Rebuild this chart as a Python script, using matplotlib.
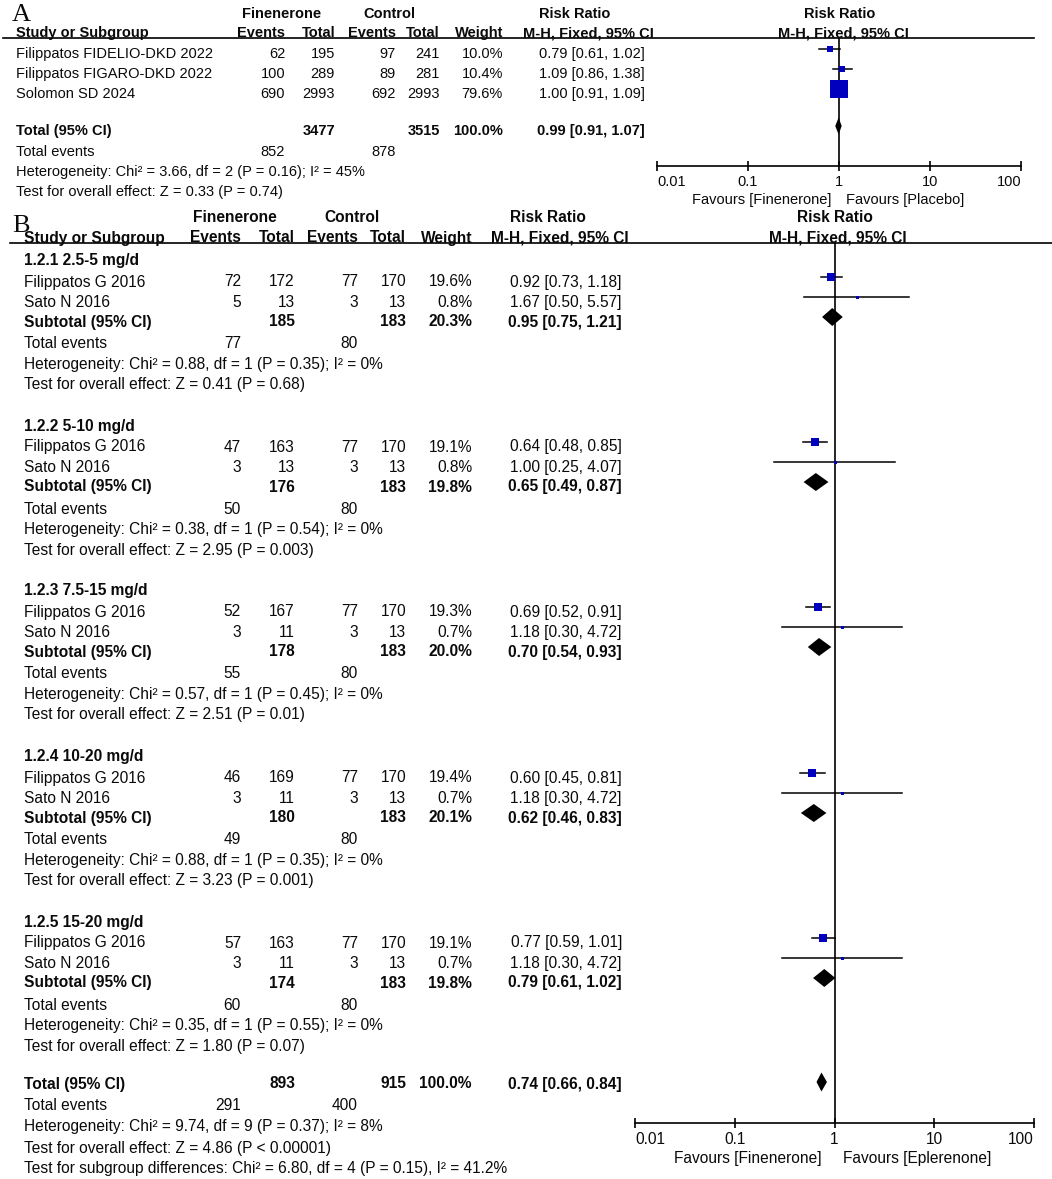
import matplotlib
matplotlib.use("Agg")
import matplotlib.pyplot as plt
from matplotlib.ticker import FixedLocator, NullLocator

# ---------------- Panel A data ----------------
A_studies = ["Filippatos FIDELIO-DKD 2022", "Filippatos FIGARO-DKD 2022", "Solomon SD 2024"]
A_fin_events = [62, 100, 690]
A_fin_total = [195, 289, 2993]
A_ctl_events = [97, 89, 692]
A_ctl_total = [241, 281, 2993]
A_weight = [10.0, 10.4, 79.6]
A_rr = [0.79, 1.09, 1.00]
A_lo = [0.61, 0.86, 0.91]
A_hi = [1.02, 1.38, 1.09]
A_tot_fin_total = 3477
A_tot_ctl_total = 3515
A_tot_weight = 100.0
A_tot_rr = 0.99
A_tot_lo = 0.91
A_tot_hi = 1.07
A_tot_events_fin = 852
A_tot_events_ctl = 878
A_het = "Heterogeneity: Chi² = 3.66, df = 2 (P = 0.16); I² = 45%"
A_z = "Test for overall effect: Z = 0.33 (P = 0.74)"
A_favours = ["Favours [Finenerone]", "Favours [Placebo]"]

# ---------------- Panel B data ----------------
B_subgroups = ["1.2.1 2.5-5 mg/d", "1.2.2 5-10 mg/d", "1.2.3 7.5-15 mg/d",
               "1.2.4 10-20 mg/d", "1.2.5 15-20 mg/d"]
B_studies = ["Filippatos G 2016", "Sato N 2016"]
B_fin_events = [[72, 5], [47, 3], [52, 3], [46, 3], [57, 3]]
B_fin_total = [[172, 13], [163, 13], [167, 11], [169, 11], [163, 11]]
B_ctl_events = [[77, 3], [77, 3], [77, 3], [77, 3], [77, 3]]
B_ctl_total = [[170, 13], [170, 13], [170, 13], [170, 13], [170, 13]]
B_weight = [[19.6, 0.8], [19.1, 0.8], [19.3, 0.7], [19.4, 0.7], [19.1, 0.7]]
B_rr = [[0.92, 1.67], [0.64, 1.00], [0.69, 1.18], [0.60, 1.18], [0.77, 1.18]]
B_lo = [[0.73, 0.50], [0.48, 0.25], [0.52, 0.30], [0.45, 0.30], [0.59, 0.30]]
B_hi = [[1.18, 5.57], [0.85, 4.07], [0.91, 4.72], [0.81, 4.72], [1.01, 4.72]]
B_sub_fin_total = [185, 176, 178, 180, 174]
B_sub_ctl_total = [183, 183, 183, 183, 183]
B_sub_weight = [20.3, 19.8, 20.0, 20.1, 19.8]
B_sub_rr = [0.95, 0.65, 0.70, 0.62, 0.79]
B_sub_lo = [0.75, 0.49, 0.54, 0.46, 0.61]
B_sub_hi = [1.21, 0.87, 0.93, 0.83, 1.02]
B_sub_events_fin = [77, 50, 55, 49, 60]
B_sub_events_ctl = [80, 80, 80, 80, 80]
B_sub_het = ["Heterogeneity: Chi² = 0.88, df = 1 (P = 0.35); I² = 0%",
             "Heterogeneity: Chi² = 0.38, df = 1 (P = 0.54); I² = 0%",
             "Heterogeneity: Chi² = 0.57, df = 1 (P = 0.45); I² = 0%",
             "Heterogeneity: Chi² = 0.88, df = 1 (P = 0.35); I² = 0%",
             "Heterogeneity: Chi² = 0.35, df = 1 (P = 0.55); I² = 0%"]
B_sub_z = ["Test for overall effect: Z = 0.41 (P = 0.68)",
           "Test for overall effect: Z = 2.95 (P = 0.003)",
           "Test for overall effect: Z = 2.51 (P = 0.01)",
           "Test for overall effect: Z = 3.23 (P = 0.001)",
           "Test for overall effect: Z = 1.80 (P = 0.07)"]
B_tot_fin_total = 893
B_tot_ctl_total = 915
B_tot_weight = 100.0
B_tot_rr = 0.74
B_tot_lo = 0.66
B_tot_hi = 0.84
B_tot_events_fin = 291
B_tot_events_ctl = 400
B_het = "Heterogeneity: Chi² = 9.74, df = 9 (P = 0.37); I² = 8%"
B_z = "Test for overall effect: Z = 4.86 (P < 0.00001)"
B_subdiff = "Test for subgroup differences: Chi² = 6.80, df = 4 (P = 0.15), I² = 41.2%"
B_favours = ["Favours [Finenerone]", "Favours [Eplerenone]"]

tick_vals = [0.01, 0.1, 1, 10, 100]
tick_labels = ["0.01", "0.1", "1", "10", "100"]

# ---------------- Figure ----------------
W, H = 1052, 1179
DPI = 100
fig = plt.figure(figsize=(W / DPI, H / DPI), dpi=DPI)
fig.patch.set_facecolor("white")
FONT = "Liberation Sans"
SERIF = "Liberation Serif"
TXT = "#0a0a0a"
BLUE = "#0000BE"

tx = fig.add_axes([0, 0, 1, 1])
tx.set_xlim(0, W)
tx.set_ylim(H, 0)
tx.axis("off")


def put(x, yc, s, size, ha="left", bold=False, off=5.0):
    tx.text(x, yc + off, s, fontsize=size, ha=ha, va="baseline",
            family=FONT, fontweight="bold" if bold else "normal", color=TXT)


def forest_axes(x0, x1, y0, y1):
    ax = fig.add_axes([x0 / W, 1 - y1 / H, (x1 - x0) / W, (y1 - y0) / H])
    ax.set_xscale("log")
    ax.set_xlim(0.01, 100)
    ax.set_ylim(y1, y0)
    ax.patch.set_alpha(0)
    for s in ("top", "left", "right"):
        ax.spines[s].set_visible(False)
    ax.spines["bottom"].set_linewidth(1.2)
    ax.yaxis.set_visible(False)
    ax.xaxis.set_major_locator(FixedLocator(tick_vals))
    ax.xaxis.set_minor_locator(NullLocator())
    ax.set_xticklabels(tick_labels)
    ax.tick_params(axis="x", direction="inout", length=7, width=1.2, pad=3)
    ax.axvline(1, color="black", lw=1.2, zorder=1)
    return ax


def square(ax, y, rr, lo, hi, w):
    ax.plot([lo, hi], [y, y], color="black", lw=1.1, zorder=2, clip_on=False)
    side = max(1.3 * w ** 0.6, 3.0)
    ax.plot([rr], [y], marker="s", ms=side * 72 / DPI, color=BLUE,
            mec=BLUE, mew=0, zorder=3, clip_on=False)


def diamond(ax, y, rr, lo, hi, h=17):
    ax.fill([lo, rr, hi, rr], [y, y - h / 2, y, y + h / 2], color="black",
            zorder=3, clip_on=False, lw=0)


# ================= Panel A =================
SA = 10.5
a_left, a_ev1, a_tot1, a_ev2, a_tot2, a_wt, a_ci = 16, 285, 335, 396, 440, 503, 645
tx.text(12, 21, "A", fontsize=19, family=SERIF, color=TXT, va="baseline")
put(282, 13, "Finenerone", SA, "center", True)
put(389, 13, "Control", SA, "center", True)
put(575, 13, "Risk Ratio", SA, "center", True)
put(840, 13, "Risk Ratio", SA, "center", True)
put(a_left, 32, "Study or Subgroup", SA, "left", True)
put(a_ev1, 32, "Events", SA, "right", True)
put(a_tot1, 32, "Total", SA, "right", True)
put(a_ev2, 32, "Events", SA, "right", True)
put(a_tot2, 32, "Total", SA, "right", True)
put(a_wt, 32, "Weight", SA, "right", True)
put(588, 32, "M-H, Fixed, 95% CI", SA, "center", True)
put(843, 32, "M-H, Fixed, 95% CI", SA, "center", True)
tx.plot([3, 1034], [38, 38], color="black", lw=1.2)

axA = forest_axes(657, 1021, 38, 166)
for lab in axA.get_xticklabels():
    lab.set_fontsize(SA); lab.set_family(FONT); lab.set_color(TXT)
axA.get_xticklabels()[0].set_ha("left")
axA.get_xticklabels()[-1].set_ha("right")

a_rows = [53, 73, 93]
for i, name in enumerate(A_studies):
    y = a_rows[i]
    put(a_left, y, name, SA)
    put(a_ev1, y, str(A_fin_events[i]), SA, "right")
    put(a_tot1, y, str(A_fin_total[i]), SA, "right")
    put(a_ev2, y, str(A_ctl_events[i]), SA, "right")
    put(a_tot2, y, str(A_ctl_total[i]), SA, "right")
    put(a_wt, y, f"{A_weight[i]:.1f}%", SA, "right")
    put(a_ci, y, f"{A_rr[i]:.2f} [{A_lo[i]:.2f}, {A_hi[i]:.2f}]", SA, "right")
    square(axA, y - 4.5, A_rr[i], A_lo[i], A_hi[i], A_weight[i])

y = 130
put(a_left, y, "Total (95% CI)", SA, "left", True)
put(a_tot1, y, str(A_tot_fin_total), SA, "right", True)
put(a_tot2, y, str(A_tot_ctl_total), SA, "right", True)
put(a_wt, y, f"{A_tot_weight:.1f}%", SA, "right", True)
put(a_ci, y, f"{A_tot_rr:.2f} [{A_tot_lo:.2f}, {A_tot_hi:.2f}]", SA, "right", True)
diamond(axA, y - 4, A_tot_rr, A_tot_lo, A_tot_hi)
put(a_left, 151, "Total events", SA)
put(a_ev1, 151, str(A_tot_events_fin), SA, "right")
put(a_ev2, 151, str(A_tot_events_ctl), SA, "right")
put(a_left, 171, A_het, SA)
put(a_left, 191, A_z, SA)
put(831, 199, A_favours[0], SA, "right")
put(846, 199, A_favours[1], SA, "left")

# ================= Panel B =================
SB = 11.2
OB = 5.5
b_left, b_ev1, b_tot1, b_ev2, b_tot2, b_wt, b_ci = 24, 241, 295, 358, 406, 472, 622
tx.text(12, 232, "B", fontsize=19, family=SERIF, color=TXT, va="baseline")
put(235, 217, "Finenerone", SB, "center", True, OB)
put(352, 217, "Control", SB, "center", True, OB)
put(548, 217, "Risk Ratio", SB, "center", True, OB)
put(835, 217, "Risk Ratio", SB, "center", True, OB)
put(b_left, 237, "Study or Subgroup", SB, "left", True, OB)
put(b_ev1, 237, "Events", SB, "right", True, OB)
put(b_tot1, 237, "Total", SB, "right", True, OB)
put(b_ev2, 237, "Events", SB, "right", True, OB)
put(b_tot2, 237, "Total", SB, "right", True, OB)
put(b_wt, 237, "Weight", SB, "right", True, OB)
put(560, 237, "M-H, Fixed, 95% CI", SB, "center", True, OB)
put(838, 237, "M-H, Fixed, 95% CI", SB, "center", True, OB)
tx.plot([10, 1052], [243, 243], color="black", lw=1.2)

axB = forest_axes(635, 1034, 243, 1123)
for lab in axB.get_xticklabels():
    lab.set_fontsize(SB); lab.set_family(FONT); lab.set_color(TXT)
axB.get_xticklabels()[0].set_ha("left")
axB.get_xticklabels()[-1].set_ha("right")

block_top = [260, 425, 590, 756, 921]
for g, gname in enumerate(B_subgroups):
    y0 = block_top[g]
    put(b_left, y0, gname, SB, "left", True, OB)
    for i, name in enumerate(B_studies):
        y = y0 + 21 + 20.5 * i
        put(b_left, y, name, SB, off=OB)
        put(b_ev1, y, str(B_fin_events[g][i]), SB, "right", off=OB)
        put(b_tot1, y, str(B_fin_total[g][i]), SB, "right", off=OB)
        put(b_ev2, y, str(B_ctl_events[g][i]), SB, "right", off=OB)
        put(b_tot2, y, str(B_ctl_total[g][i]), SB, "right", off=OB)
        put(b_wt, y, f"{B_weight[g][i]:.1f}%", SB, "right", off=OB)
        put(b_ci, y, f"{B_rr[g][i]:.2f} [{B_lo[g][i]:.2f}, {B_hi[g][i]:.2f}]", SB, "right", off=OB)
        square(axB, y - 4.5, B_rr[g][i], B_lo[g][i], B_hi[g][i], B_weight[g][i])
    y = y0 + 61
    put(b_left, y, "Subtotal (95% CI)", SB, "left", True, OB)
    put(b_tot1, y, str(B_sub_fin_total[g]), SB, "right", True, OB)
    put(b_tot2, y, str(B_sub_ctl_total[g]), SB, "right", True, OB)
    put(b_wt, y, f"{B_sub_weight[g]:.1f}%", SB, "right", True, OB)
    put(b_ci, y, f"{B_sub_rr[g]:.2f} [{B_sub_lo[g]:.2f}, {B_sub_hi[g]:.2f}]", SB, "right", True, OB)
    diamond(axB, y - 4, B_sub_rr[g], B_sub_lo[g], B_sub_hi[g], 18)
    y = y0 + 83
    put(b_left, y, "Total events", SB, off=OB)
    put(b_ev1, y, str(B_sub_events_fin[g]), SB, "right", off=OB)
    put(b_ev2, y, str(B_sub_events_ctl[g]), SB, "right", off=OB)
    put(b_left, y0 + 103.5, B_sub_het[g], SB, off=OB)
    put(b_left, y0 + 124, B_sub_z[g], SB, off=OB)

y = 1083
put(b_left, y, "Total (95% CI)", SB, "left", True, OB)
put(b_tot1, y, str(B_tot_fin_total), SB, "right", True, OB)
put(b_tot2, y, str(B_tot_ctl_total), SB, "right", True, OB)
put(b_wt, y, f"{B_tot_weight:.1f}%", SB, "right", True, OB)
put(b_ci, y, f"{B_tot_rr:.2f} [{B_tot_lo:.2f}, {B_tot_hi:.2f}]", SB, "right", True, OB)
diamond(axB, y - 1, B_tot_rr, B_tot_lo, B_tot_hi, 19)
put(b_left, 1105, "Total events", SB, off=OB)
put(b_ev1, 1105, str(B_tot_events_fin), SB, "right", off=OB)
put(b_ev2, 1105, str(B_tot_events_ctl), SB, "right", off=OB)
put(b_left, 1126, B_het, SB, off=OB)
put(b_left, 1147, B_z, SB, off=OB)
put(b_left, 1168, B_subdiff, SB, off=OB)
put(822, 1158, B_favours[0], SB, "right", off=OB)
put(843, 1158, B_favours[1], SB, "left", off=OB)

fig.savefig("out.png", dpi=DPI, facecolor="white")
